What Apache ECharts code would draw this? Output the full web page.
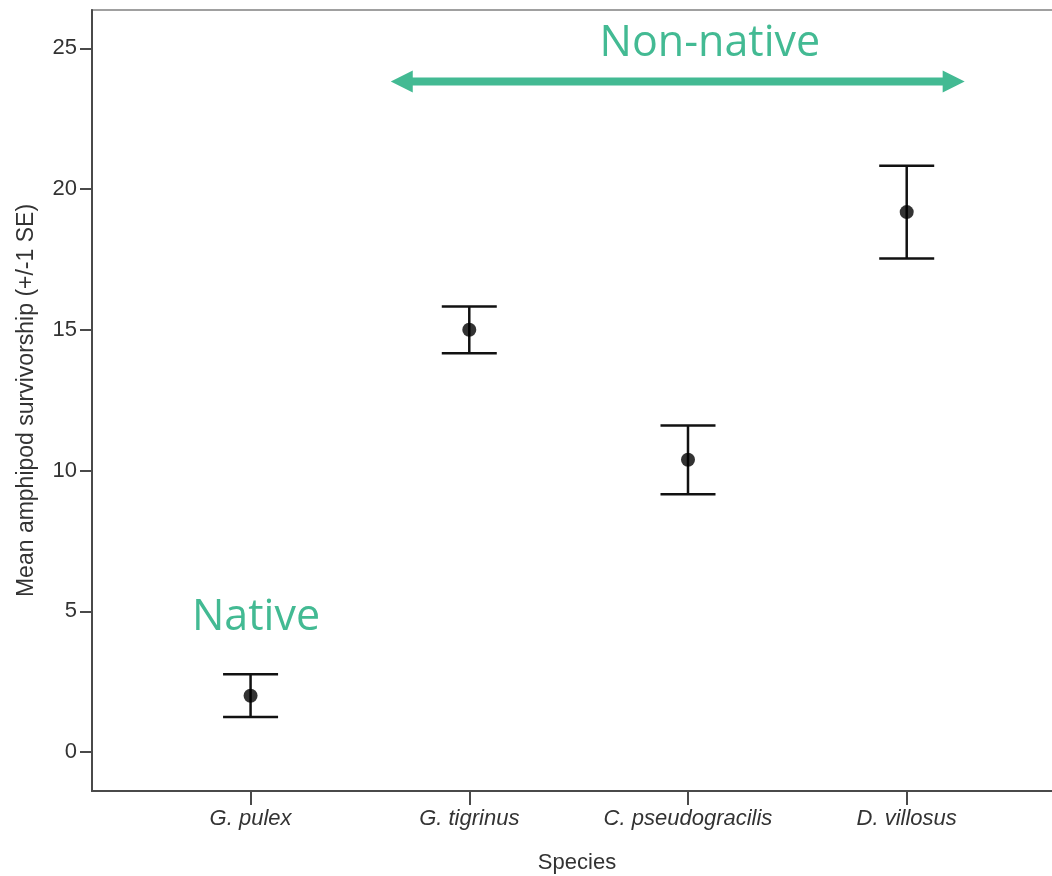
<!DOCTYPE html>
<html>
<head>
<meta charset="utf-8">
<title>Mean amphipod survivorship by species</title>
<script src="https://cdn.jsdelivr.net/npm/echarts@6/dist/echarts.min.js"></script>
<style>
  html, body { margin: 0; padding: 0; background: #ffffff; }
  #chart { width: 1052px; height: 876px; }
</style>
</head>
<body>
<div id="chart"></div>
<script>
// Species on the x axis (placed at positions 1..4)
const species = ['G. pulex', 'G. tigrinus', 'C. pseudogracilis', 'D. villosus'];
// Mean survivorship and its standard error for each species
const meanSurvival = [2.0, 15.0, 10.38, 19.18];
const seSurvival = [0.76, 0.83, 1.22, 1.65];
// Y axis tick values
const yTicks = [0, 5, 10, 15, 20, 25];
// Group annotations
const nativeLabel = 'Native';
const nonNativeLabel = 'Non-native';

const xPositions = species.map((_, i) => i + 1);
const pointData = xPositions.map((x, i) => [x, meanSurvival[i]]);
const errorData = xPositions.map((x, i) => [x, meanSurvival[i], seSurvival[i]]);

const axisFont = 'Liberation Sans, Arial, sans-serif';
const green = '#43BA93';

const chart = echarts.init(document.getElementById('chart'), null, { renderer: 'canvas' });

const option = {
  backgroundColor: '#ffffff',
  animation: false,
  grid: {
    left: 92, top: 10, right: -10, bottom: 85,
    containLabel: false,
    outerBoundsMode: 'none',
    show: true, borderColor: '#a0a0a0', borderWidth: 2, backgroundColor: 'transparent'
  },
  xAxis: {
    type: 'value',
    min: 0.275, max: 4.71,
    name: 'Species',
    nameLocation: 'middle',
    nameGap: 61,
    nameTextStyle: { fontFamily: axisFont, fontSize: 22, color: '#333' },
    splitLine: { show: false },
    axisLine: { show: true, onZero: false, lineStyle: { color: '#4a4a4a', width: 2 } },
    axisTick: { show: true, length: 14, customValues: xPositions, lineStyle: { color: '#4a4a4a', width: 2 } },
    axisLabel: {
      customValues: xPositions,
      margin: 17,
      fontFamily: axisFont, fontSize: 22, fontStyle: 'italic', color: '#333',
      formatter: v => species[Math.round(v) - 1] || ''
    }
  },
  yAxis: {
    type: 'value',
    min: -1.385, max: 26.36,
    name: 'Mean amphipod survivorship (+/-1 SE)',
    nameLocation: 'middle',
    nameGap: 54,
    nameRotate: 90,
    nameTextStyle: { fontFamily: axisFont, fontSize: 23, color: '#333' },
    splitLine: { show: false },
    axisLine: { show: true, onZero: false, lineStyle: { color: '#4a4a4a', width: 2 } },
    axisTick: { show: true, length: 12, customValues: yTicks, lineStyle: { color: '#4a4a4a', width: 2 } },
    axisLabel: {
      customValues: yTicks,
      margin: 15,
      fontFamily: axisFont, fontSize: 22, color: '#333'
    }
  },
  series: [
    {
      // ±1 SE error bars with caps
      type: 'custom',
      data: errorData,
      z: 2,
      renderItem: function (params, api) {
        const x = api.value(0), m = api.value(1), se = api.value(2);
        const hi = api.coord([x, m + se]);
        const lo = api.coord([x, m - se]);
        const cap = 27.5;
        const style = { stroke: '#111', lineWidth: 2.5 };
        return {
          type: 'group',
          children: [
            { type: 'line', shape: { x1: hi[0], y1: hi[1], x2: lo[0], y2: lo[1] }, style },
            { type: 'line', shape: { x1: hi[0] - cap, y1: hi[1], x2: hi[0] + cap, y2: hi[1] }, style },
            { type: 'line', shape: { x1: lo[0] - cap, y1: lo[1], x2: lo[0] + cap, y2: lo[1] }, style }
          ]
        };
      }
    },
    {
      // mean markers
      type: 'scatter',
      data: pointData,
      symbol: 'circle',
      symbolSize: 14,
      z: 3,
      itemStyle: { color: '#000' }
    }
  ]
};

chart.setOption(option);

// Annotations placed in data space: the "Non-native" group arrow and the labels
function px(x, y) { return chart.convertToPixel({ gridIndex: 0 }, [x, y]); }
const arrowL = px(1.641, 23.82);
const arrowR = px(4.265, 23.82);
const headLen = 22, headHalf = 11, shaftHalf = 4;
const ay = arrowL[1];
const arrowPoints = [
  [arrowL[0], ay],
  [arrowL[0] + headLen, ay - headHalf],
  [arrowL[0] + headLen, ay - shaftHalf],
  [arrowR[0] - headLen, ay - shaftHalf],
  [arrowR[0] - headLen, ay - headHalf],
  [arrowR[0], ay],
  [arrowR[0] - headLen, ay + headHalf],
  [arrowR[0] - headLen, ay + shaftHalf],
  [arrowL[0] + headLen, ay + shaftHalf],
  [arrowL[0] + headLen, ay + headHalf]
];
const nonNativePos = px(3.1, 25.15);
const nativePos = px(1.025, 4.78);

chart.setOption({
  graphic: [
    { type: 'polygon', shape: { points: arrowPoints }, style: { fill: green }, z: 10 },
    {
      type: 'text', x: nonNativePos[0], y: nonNativePos[1], z: 10,
      style: { text: nonNativeLabel, fill: green, font: '43px "Open Sans", sans-serif', align: 'center', verticalAlign: 'middle' }
    },
    {
      type: 'text', x: nativePos[0], y: nativePos[1], z: 10,
      style: { text: nativeLabel, fill: green, font: '43px "Open Sans", sans-serif', align: 'center', verticalAlign: 'middle' }
    }
  ]
});
</script>
</body>
</html>
